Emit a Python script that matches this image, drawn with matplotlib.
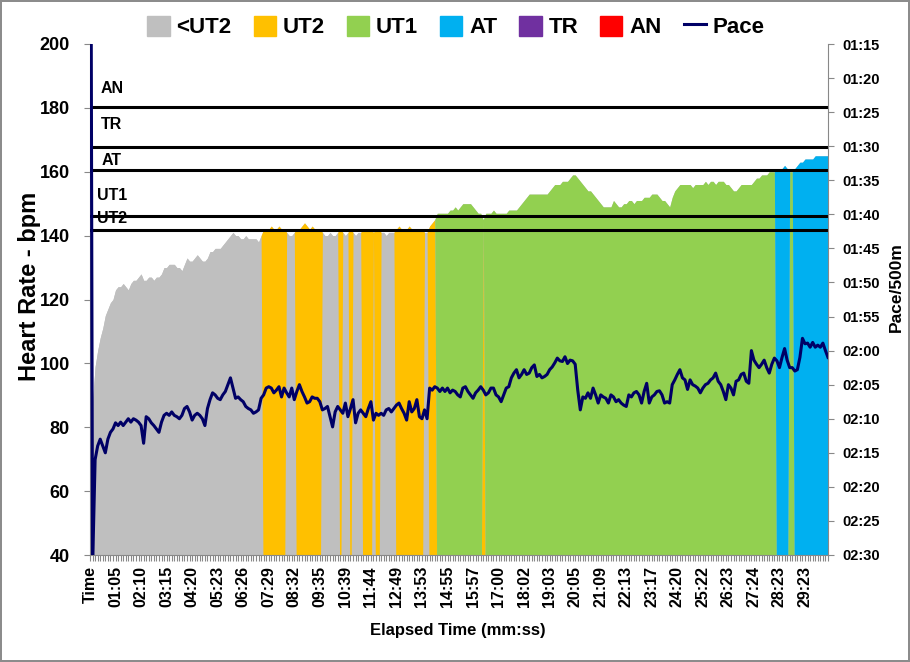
import numpy as np
import matplotlib
matplotlib.use('Agg')
import matplotlib.pyplot as plt
from matplotlib.patches import Patch
from matplotlib.lines import Line2D
from matplotlib.ticker import FuncFormatter, MultipleLocator, FixedLocator

plt.rcParams['font.family'] = ['Liberation Sans', 'DejaVu Sans']
plt.rcParams['font.weight'] = 'bold'

# x axis labels, one every 10 samples
tick_labels = ['Time', '01:05', '02:10', '03:15', '04:20', '05:23', '06:26', '07:29',
               '08:32', '09:35', '10:39', '11:44', '12:49', '13:53', '14:55', '15:57',
               '17:00', '18:02', '19:03', '20:05', '21:09', '22:13', '23:17', '24:20',
               '25:22', '26:23', '27:24', '28:23', '29:23']

zone_names = ['<UT2', 'UT2', 'UT1', 'AT', 'TR', 'AN']
zone_colors = ['#BFBFBF', '#FFC000', '#92D050', '#00B0F0', '#7030A0', '#FF0000']

# zone lower limits (bpm)
line_names = ['UT2', 'UT1', 'AT', 'TR', 'AN']
thresholds = [141.7, 146.1, 160.6, 167.6, 180.4]

# heart rate per sample (bpm)
hr = [0, 88, 99, 104, 108, 111, 115, 117, 119, 120,
      123, 124, 124, 125, 124, 123, 125, 126, 126, 127,
      128, 126, 126, 127, 127, 126, 127, 127, 128, 130,
      130, 131, 131, 131, 130, 130, 129, 131, 133, 132,
      132, 133, 134, 133, 132, 132, 133, 135, 135, 136,
      136, 136, 137, 138, 139, 140, 141, 140, 140, 139,
      139, 140, 139, 139, 139, 139, 138, 140, 142, 142,
      142, 143, 142, 142, 143, 142, 142, 141, 140, 140,
      141, 142, 142, 143, 144, 143, 142, 143, 142, 142,
      142, 141, 140, 140, 141, 140, 140, 141, 142, 141,
      140, 141, 142, 141, 140, 141, 141, 142, 142, 142,
      142, 141, 142, 142, 141, 141, 140, 141, 141, 141,
      142, 143, 142, 142, 142, 143, 142, 142, 142, 142,
      142, 141, 141, 143, 144, 145, 147, 147, 147, 147,
      147, 148, 148, 149, 148, 149, 150, 150, 150, 150,
      149, 148, 147, 147, 145, 147, 147, 147, 148, 147,
      147, 147, 147, 147, 148, 148, 148, 148, 149, 150,
      151, 152, 153, 153, 153, 153, 153, 153, 153, 153,
      154, 155, 156, 156, 156, 157, 157, 157, 158, 159,
      159, 158, 157, 156, 155, 154, 154, 153, 152, 151,
      150, 149, 149, 149, 149, 151, 150, 149, 149, 150,
      150, 151, 151, 150, 151, 151, 151, 152, 152, 152,
      153, 153, 153, 152, 151, 151, 150, 149, 152, 154,
      155, 156, 156, 156, 156, 156, 155, 156, 156, 156,
      156, 157, 156, 157, 157, 156, 157, 157, 157, 156,
      156, 155, 154, 154, 155, 156, 156, 156, 156, 156,
      157, 158, 158, 159, 159, 159, 160, 160, 160, 161,
      161, 161, 162, 161, 160, 160, 161, 162, 163, 163,
      164, 164, 164, 164, 165, 165, 165, 165, 165, 165]

# pace per sample (seconds per 500m)
pace = [0, 152, 136, 134, 133, 134, 135, 133, 132, 131.5,
        130.6, 131, 130.5, 131, 130.5, 130, 130.5, 130, 130.2, 130.5,
        131, 133.6, 129.7, 130, 130.6, 131, 131.5, 132, 130.5, 129.5,
        129.2, 129.5, 129, 129.5, 129.7, 130, 129.5, 128.5, 128.2, 129,
        130.2, 129.5, 129.2, 129.5, 130, 131, 128.5, 127.2, 126.2, 126.5,
        127, 127.2, 126.5, 126, 125, 124, 125.5, 127, 126.8, 127.2,
        127.5, 128.2, 128.5, 128.7, 129.2, 129, 128.7, 127, 126.5, 125.5,
        125.3, 125.5, 126.2, 125.8, 125.3, 126.8, 125.5, 126.2, 126.8, 125.5,
        127.2, 126, 125, 126, 126.8, 127.7, 127.5, 126.8, 127, 127,
        127.5, 128.7, 128.5, 128.2, 129.7, 131.2, 129, 128.2, 128.7, 129.2,
        127.7, 129.7, 128.5, 127.2, 130.6, 129.2, 128.7, 129.2, 129.7, 128.5,
        127.5, 130.2, 129.2, 129.5, 129.2, 129.5, 128.7, 128.5, 129, 128.5,
        128, 127.7, 128.5, 129.2, 130.2, 127.5, 129, 128.5, 127.2, 129.7,
        130, 128.7, 130, 125.5, 125.8, 125.3, 125.5, 126, 125.5, 126,
        125.5, 126.2, 125.8, 126, 126.5, 126.8, 125.5, 125.3, 126, 126.5,
        127, 126.2, 125.8, 125.3, 125.8, 126.5, 126.2, 125.5, 125.5, 126.5,
        126.8, 127.5, 126.5, 125.5, 125.3, 124, 123.3, 122.8, 124, 123.5,
        122.8, 123.5, 123.3, 122.5, 122.1, 123.8, 123.5, 124, 123.8, 123.5,
        122.8, 122.4, 121.8, 121.1, 121.5, 121.6, 120.9, 121.9, 121.4, 121.5,
        122, 125.8, 128.7, 126.8, 127, 126.2, 127, 125.5, 126.5, 127.7,
        126.5, 126.8, 127, 127.7, 126.5, 126.8, 127.5, 127.2, 127.7, 128,
        128.2, 126.5, 126.8, 126.2, 126, 126.5, 127.7, 126, 124.8, 127.7,
        126.8, 126.5, 126, 125.9, 126.5, 127.7, 127.5, 127.7, 125, 124.3,
        123.5, 122.8, 124, 124.3, 125.7, 124.3, 125, 125.2, 125.5, 126.2,
        125.5, 125, 124.8, 124.3, 124, 123.3, 124.5, 125, 126, 127.2,
        125, 125.5, 126.5, 124.5, 124.3, 123.5, 123.3, 124.5, 124.8, 120,
        121.4, 122, 122.5, 122, 121.4, 122.5, 123.3, 122, 121.1, 121.5,
        122.5, 121, 119.7, 121.4, 122.5, 122.5, 123, 122.8, 121, 118.2,
        119, 118.9, 119.5, 118.8, 119.5, 119.2, 119.5, 118.9, 120, 121]

x = np.arange(len(hr))
hr_arr = np.array(hr, dtype=float)
zone = np.searchsorted(thresholds, hr_arr)

fig = plt.figure(figsize=(9.1, 6.62), dpi=100)
fig.patch.set_edgecolor('#8c8c8c')
fig.patch.set_linewidth(1.5)
ax = fig.add_axes([90 / 910, 1 - 555 / 662, 738 / 910, 511 / 662])

# backing layer so the joins between zone areas don't show white seams
ax.fill_between(x, 0, hr_arr, color=zone_colors[0], linewidth=0)

# heart rate as a stacked area, one series per zone (like the spreadsheet chart)
base = np.zeros(len(hr))
for k, c in enumerate(zone_colors):
    part = np.where(zone == k, hr_arr, 0.0)
    if part.any():
        ax.fill_between(x, base, base + part, color=c, linewidth=0)
    base = base + part

# zone lines + names
label_y = [145.4, 152.5, 163.4, 174.9, 186.1]
for t, name, ty in zip(thresholds, line_names, label_y):
    ax.axhline(t, color='black', lw=2.2, zorder=3)
    ax.text(8.6, ty, name, ha='center', va='center', fontsize=11.5, fontweight='bold')

ax.set_xlim(0, len(hr) - 1)
ax.set_ylim(40, 200)
ax.set_yticks(range(40, 201, 20))
ax.xaxis.set_major_locator(FixedLocator(range(0, len(hr), 10)))
ax.set_xticklabels(tick_labels, rotation=90, fontsize=11.5, fontweight='bold')
ax.xaxis.set_minor_locator(MultipleLocator(1))
ax.tick_params(axis='x', which='both', length=4, width=0.8, color='#888888', pad=4)
ax.tick_params(axis='y', length=4.5, width=0.8, color='#888888', labelsize=13, pad=10)
for s in ['top', 'right']:
    ax.spines[s].set_visible(False)
ax.spines['bottom'].set_color('#888888')
ax.spines['left'].set_color('#888888')

ax.set_ylabel('Heart Rate - bpm', fontsize=17, fontweight='bold')
ax.yaxis.set_label_coords(-0.066, 0.526)
ax.set_xlabel('Elapsed Time (mm:ss)', fontsize=12, fontweight='bold')
ax.xaxis.set_label_coords(0.4986, -0.133)

# pace on the right axis (inverted)
ax2 = ax.twinx()
ax2.plot(x, pace, color='#000066', lw=2.2)
ax2.set_ylim(150, 75)
ax2.set_yticks(range(75, 151, 5))
ax2.yaxis.set_major_formatter(FuncFormatter(lambda v, p: '%02d:%02d' % (int(v) // 60, int(v) % 60)))
ax2.tick_params(axis='y', length=4.5, width=0.8, color='#888888', labelsize=10.5, pad=6)
for s in ['top', 'left', 'bottom']:
    ax2.spines[s].set_visible(False)
ax2.spines['right'].set_color('#888888')
ax2.set_ylabel('Pace/500m', fontsize=12.5, fontweight='bold')
ax2.yaxis.set_label_coords(1.083, 0.525)

handles = [Patch(color=c) for c in zone_colors] + [Line2D([], [], color='#000066', lw=2.2)]
fig.legend(handles, zone_names + ['Pace'], loc='center', bbox_to_anchor=(456 / 910, 1 - 27 / 662),
           ncol=7, frameon=False, fontsize=16, handlelength=1.0, handleheight=1.0,
           handletextpad=0.3, columnspacing=1.0)

fig.savefig('out.png', dpi=100, edgecolor=fig.get_edgecolor())
